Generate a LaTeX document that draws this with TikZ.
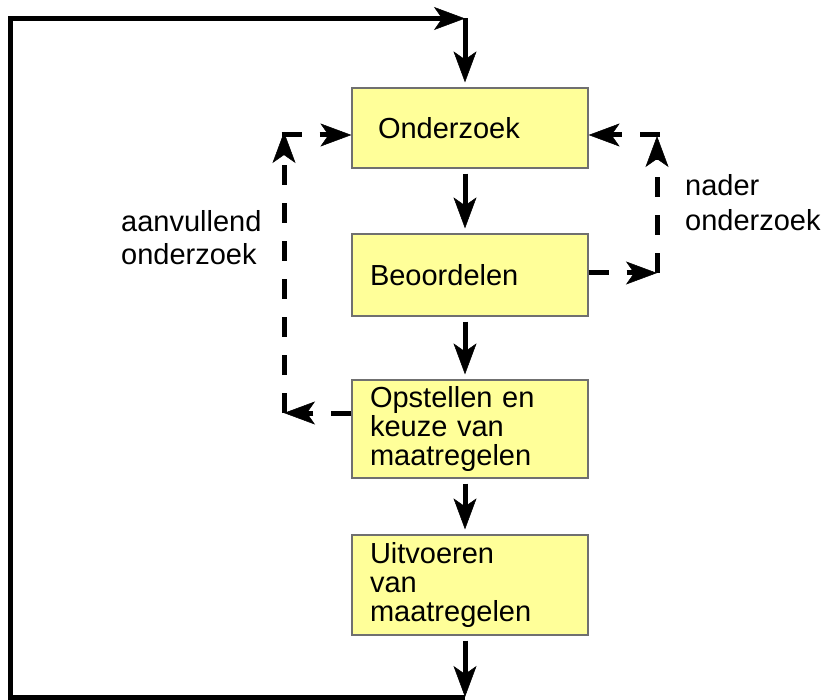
\documentclass[tikz,border=0pt]{standalone}
\usepackage{fontspec}
\setmainfont{Liberation Sans}
\usetikzlibrary{arrows.meta}
\definecolor{boxfill}{HTML}{FFFF99}
\definecolor{boxline}{HTML}{707070}
\begin{document}
\begin{tikzpicture}[x=1pt,y=-1pt,
  font=\fontsize{29}{29}\selectfont,
  stepbox/.style={draw=boxline, line width=1.2pt, fill=boxfill, minimum width=236pt,
    text width=200pt, inner xsep=18pt, inner ysep=0pt, align=left},
  tip/.style={-{Stealth[length=31pt,width=23pt,inset=8pt,line width=0.5pt]}},
  main/.style={line width=5pt},
  dsh/.style={line width=5pt, dash pattern=on 20pt off 18pt},
  lbl/.style={anchor=base west, inner sep=0pt}]
\useasboundingbox (0,0) rectangle (824,700);

% boxes
\node[stepbox, minimum height=80pt, text width=184pt, inner xsep=26pt] (b1) at (470,128) {Onderzoek};
\node[stepbox, minimum height=82pt] (b2) at (470,275) {Beoordelen};
\node[stepbox, minimum height=98pt] (b3) at (470,429) {Opstellen en\\keuze van\\maatregelen};
\node[stepbox, minimum height=100pt] (b4) at (470,585) {Uitvoeren\\van\\maatregelen};

% labels
\node[lbl] (la1) at (121,232) {aanvullend};
\node[lbl] (la2) at (121,265) {onderzoek};
\node[lbl] (ln1) at (685,196) {nader};
\node[lbl] (ln2) at (685,231) {onderzoek};

% main flow
\draw[main,tip,shorten <=5pt,shorten >=5pt] ([xshift=-5pt]b1.south) -- ([xshift=-5pt]b2.north);
\draw[main,tip,shorten <=5pt,shorten >=5pt] ([xshift=-5pt]b2.south) -- ([xshift=-5pt]b3.north);
\draw[main,tip,shorten <=5pt,shorten >=5pt] ([xshift=-5pt]b3.south) -- ([xshift=-5pt]b4.north);

% outer loop
\coordinate (br) at (465,697);
\coordinate (bl) at (10.5,697);
\coordinate (tl) at (10.5,18.5);
\coordinate (tr) at (465,18.5);
\draw[main,tip,shorten <=5pt] ([xshift=-5pt]b4.south) -- (br);
\draw[main,tip,line join=miter] (br) -- (bl) -- (tl) -- (tr);
\draw[main,tip,shorten >=5pt] (tr) -- ([xshift=-5pt]b1.north);

% left dashed loop
\coordinate (lA) at (284,413);
\coordinate (lB) at (284,132);
\coordinate (lC) at (281.5,135);
\draw[dsh,tip] (b3.west |- lA) -- (lA);
\draw[dsh,tip] (lA) -- (lB);
\draw[dsh,tip] (lC) -- (b1.west |- lC);

% right dashed loop
\coordinate (rA) at (657,273);
\coordinate (rB) at (657,136);
\coordinate (rC) at (659.5,135);
\draw[dsh,tip] (b2.east |- rA) -- (rA);
\draw[dsh,tip] (rA) -- (rB);
\draw[dsh,tip] (rC) -- (b1.east |- rC);
\end{tikzpicture}
\end{document}
